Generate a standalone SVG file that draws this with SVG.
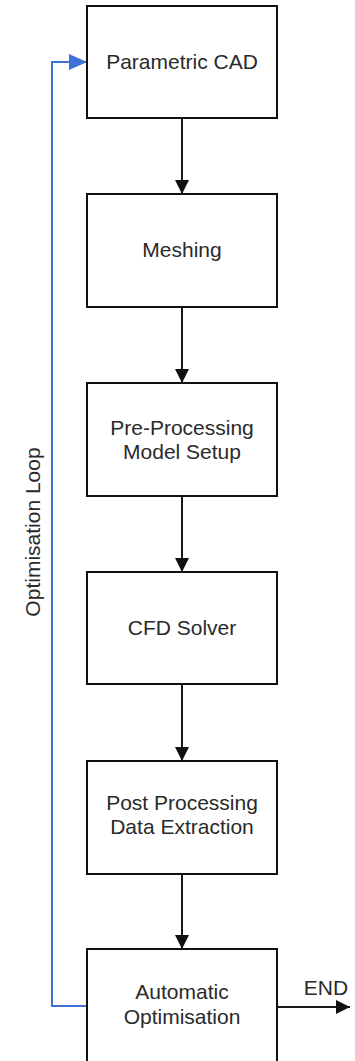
<svg xmlns="http://www.w3.org/2000/svg" width="355" height="1061" viewBox="0 0 355 1061">
<style>
.box{fill:#fff;stroke:#111;stroke-width:2}
.t{font-family:"Liberation Sans",Arial,sans-serif;font-size:21px;fill:#2a2a2a;text-anchor:middle}
.c{stroke:#1a1a1a;stroke-width:2;fill:none}
.loop{stroke:#3f72d6;stroke-width:2;fill:none}
</style>
<defs>
<marker id="ah" markerWidth="14" markerHeight="14" refX="14" refY="7" orient="auto" markerUnits="userSpaceOnUse" viewBox="0 0 14 14">
<path d="M0,0 L14,7 L0,14 Z" fill="#111"/>
</marker>
<marker id="ahb" markerWidth="18" markerHeight="16" refX="18" refY="8" orient="auto" markerUnits="userSpaceOnUse" viewBox="0 0 18 16">
<path d="M0,0 L18,8 L0,16 Z" fill="#3f72d6"/>
</marker>
</defs>
<rect width="355" height="1061" fill="#fff"/>
<g id="connectors">
<line class="c" x1="182" y1="118" x2="182" y2="194" marker-end="url(#ah)"/>
<line class="c" x1="182" y1="307" x2="182" y2="383" marker-end="url(#ah)"/>
<line class="c" x1="182" y1="496" x2="182" y2="572" marker-end="url(#ah)"/>
<line class="c" x1="182" y1="684" x2="182" y2="761" marker-end="url(#ah)"/>
<line class="c" x1="182" y1="874" x2="182" y2="949" marker-end="url(#ah)"/>
<line class="c" x1="277" y1="1007" x2="350" y2="1007" marker-end="url(#ah)"/>
<polyline class="loop" points="87,1006 52,1006 52,62 87,62" marker-end="url(#ahb)"/>
<text class="t" x="326" y="995">END</text>
<text class="t" transform="translate(40,532) rotate(-90)" x="0" y="0">Optimisation Loop</text>
</g>
<g id="n1"><rect class="box" x="87" y="6" width="190" height="112"/><text class="t" x="182" y="69">Parametric CAD</text></g>
<g id="n2"><rect class="box" x="87" y="194" width="190" height="113"/><text class="t" x="182" y="257">Meshing</text></g>
<g id="n3"><rect class="box" x="87" y="383" width="190" height="113"/><text class="t" x="182" y="435">Pre-Processing</text><text class="t" x="182" y="459">Model Setup</text></g>
<g id="n4"><rect class="box" x="87" y="572" width="190" height="112"/><text class="t" x="182" y="635">CFD Solver</text></g>
<g id="n5"><rect class="box" x="87" y="761" width="190" height="113"/><text class="t" x="182" y="810">Post Processing</text><text class="t" x="182" y="834">Data Extraction</text></g>
<g id="n6"><rect class="box" x="87" y="949" width="190" height="120"/><text class="t" x="182" y="999">Automatic</text><text class="t" x="182" y="1024">Optimisation</text></g>
</svg>
